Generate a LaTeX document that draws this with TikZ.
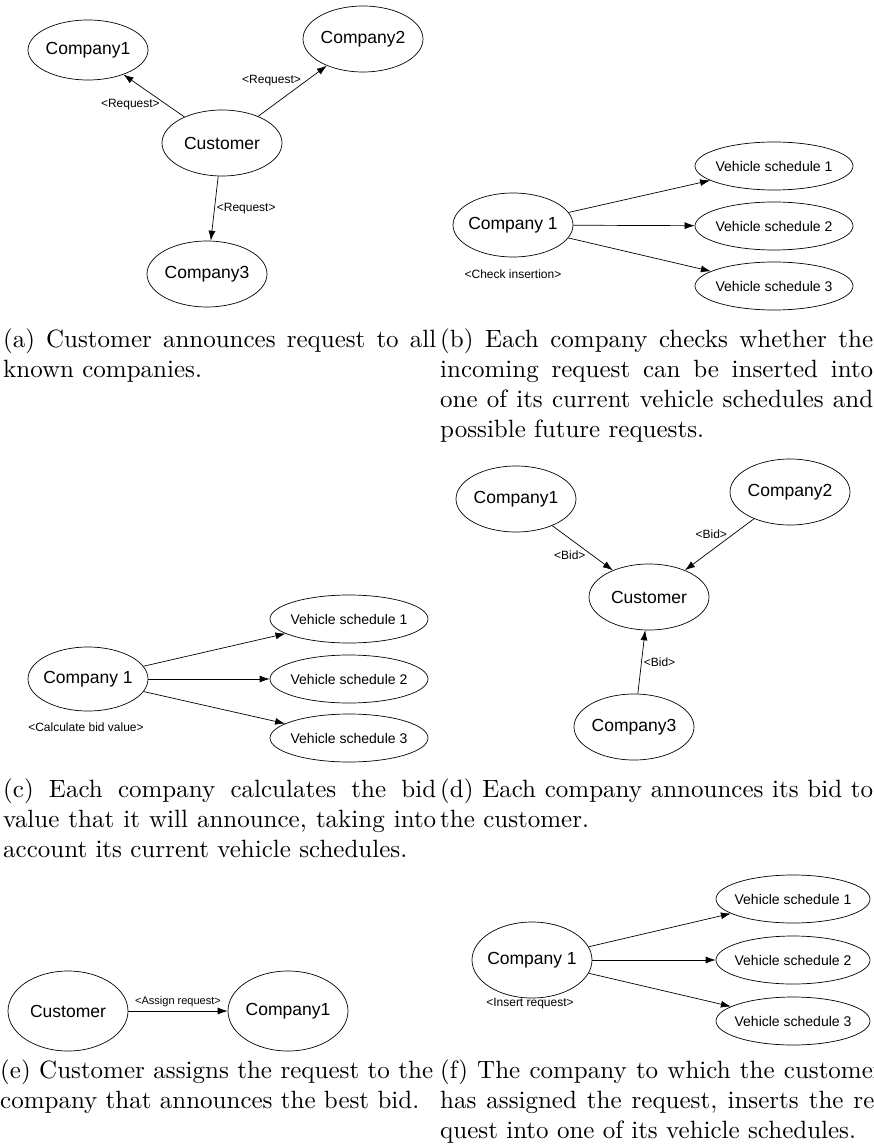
\documentclass[tikz,border=0pt]{standalone}
\usepackage{fontspec}
\usepackage{graphicx}
\usetikzlibrary{shapes.geometric,arrows.meta}
\newfontfamily\arialfont{Liberation Sans}
% caption set at 10pt in a narrow box, then blown up
\newcommand{\capwide}[2][173.2pt]{\scalebox{2.5}{\parbox[t]{#1}{#2}}}

\begin{document}
\begin{tikzpicture}[x=1pt,y=-1pt,>={Latex[length=10pt,width=7pt]},
  main node/.style={ellipse,draw,line width=0.7pt,inner ysep=0pt,inner xsep=-3pt,minimum width=120pt,minimum height=66pt,font=\arialfont\fontsize{17.5}{20}\selectfont},
  sched node/.style={ellipse,draw,line width=0.7pt,inner ysep=0pt,inner xsep=-4pt,minimum width=158pt,minimum height=48pt,font=\arialfont\fontsize{14}{16}\selectfont},
  msg/.style={font=\arialfont\fontsize{12}{14}\selectfont,inner sep=2pt},
  cap node/.style={anchor=north west,inner sep=0pt,font=\fontsize{10}{12}\selectfont}]
  \useasboundingbox (0,0) rectangle (874,1147);

  % (a)
  \node[main node,minimum height=60pt] (a1) at (88,50) {Company1};
  \node[main node] (a2) at (363,39) {Company2};
  \node[main node] (a0) at (222,143) {Customer};
  \node[main node] (a3) at (207,274) {Company3};
  \path[line width=0.7pt]
  (a0) [->] edge node [msg,left=4pt,pos=0.3] {<Request>} (a1)
  (a0) [->] edge node [msg,left=3pt,pos=0.7] {<Request>} (a2)
  (a0) [->] edge node [msg,right,pos=0.5] {<Request>} (a3);

  % (b)
  \node[main node,minimum height=64pt] (b0) at (513,225) {Company 1};
  \node[sched node] (b1) at (774,166) {Vehicle schedule 1};
  \node[sched node] (b2) at (774,226) {Vehicle schedule 2};
  \node[sched node] (b3) at (774,286) {Vehicle schedule 3};
  \node[msg] (bl) at (513,274) {<Check insertion>};
  \path[line width=0.7pt]
  (b0) [->] edge (b1)
  (b0) [->] edge (b2)
  (b0) [->] edge (b3);

  % (c)
  \node[main node,minimum height=64pt] (c0) at (88,679) {Company 1};
  \node[sched node] (c1) at (349,619) {Vehicle schedule 1};
  \node[sched node] (c2) at (349,679) {Vehicle schedule 2};
  \node[sched node] (c3) at (349,738) {Vehicle schedule 3};
  \node[msg] (cl) at (86,727) {<Calculate bid value>};
  \path[line width=0.7pt]
  (c0) [->] edge (c1)
  (c0) [->] edge (c2)
  (c0) [->] edge (c3);

  % (d)
  \node[main node] (d1) at (516,499) {Company1};
  \node[main node] (d2) at (790,492) {Company2};
  \node[main node] (d0) at (649,597) {Customer};
  \node[main node] (d3) at (634,727) {Company3};
  \path[line width=0.7pt]
  (d1) [->] edge node [msg,left=5pt,pos=0.67] {<Bid>} (d0)
  (d2) [->] edge node [msg,left=4pt,pos=0.3] {<Bid>} (d0)
  (d3) [->] edge node [msg,right,pos=0.5] {<Bid>} (d0);

  % (e)
  \node[main node,minimum height=80pt] (e0) at (68,1011) {Customer};
  \node[main node,minimum height=80pt] (e1) at (288,1011) {Company1};
  \path[line width=0.7pt]
  (e0) [->] edge node [msg,above,yshift=2pt,font=\arialfont\fontsize{11}{13}\selectfont] {<Assign request>} (e1);

  % (f)
  \node[main node,minimum height=76pt] (f0) at (532,960) {Company 1};
  \node[sched node,minimum width=154pt] (f1) at (793,899) {Vehicle schedule 1};
  \node[sched node,minimum width=154pt] (f2) at (793,960) {Vehicle schedule 2};
  \node[sched node,minimum width=154pt] (f3) at (793,1021) {Vehicle schedule 3};
  \node[msg] (fl) at (530,1004) {<Insert request>};
  \path[line width=0.7pt]
  (f0) [->] edge (f1)
  (f0) [->] edge (f2)
  (f0) [->] edge (f3);

  % captions
  \node[cap node] (capa) at (3,329) {\capwide{(a) Customer announces request to all\linebreak known companies.}};
  \node[cap node] (capb) at (440,329) {\capwide{(b) Each company checks whether the\linebreak incoming request can be inserted into\linebreak one of its current vehicle schedules and\linebreak possible future requests.}};
  \node[cap node] (capc) at (3,779) {\capwide{(c) Each company calculates the bid\linebreak value that it will announce, taking into\linebreak account its current vehicle schedules.}};
  \node[cap node] (capd) at (440,779) {\capwide{(d) Each company announces its bid to\linebreak the customer.}};
  \node[cap node] (cape) at (0,1060) {\capwide{(e) Customer assigns the request to the\linebreak company that announces the best bid.}};
  \node[cap node] (capf) at (440,1060) {\capwide[177pt]{(f) The company to which the customer\linebreak has assigned the request, inserts the re-\linebreak quest into one of its vehicle schedules.}};
\end{tikzpicture}
\end{document}
